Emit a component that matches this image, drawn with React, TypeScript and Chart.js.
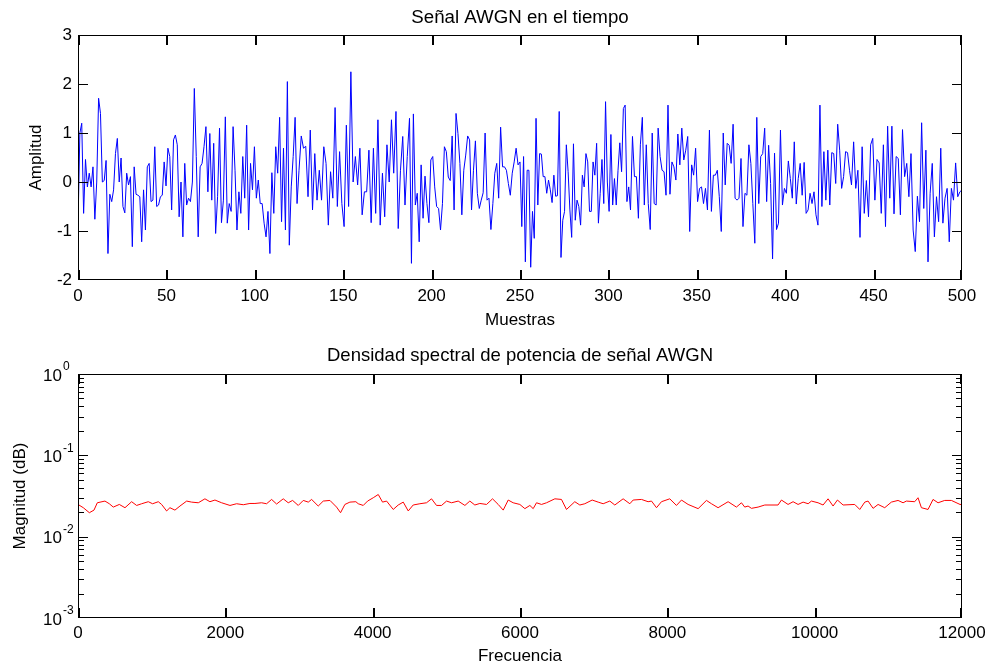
import React, { useEffect, useRef } from 'react';
import { Chart, registerables } from 'chart.js';

Chart.register(...registerables);

const FONT = '"Liberation Sans", Arial, Helvetica, sans-serif';

const TOP_TITLE = 'Señal AWGN en el tiempo';
const TOP_XLABEL = 'Muestras';
const TOP_YLABEL = 'Amplitud';
const BOT_TITLE = 'Densidad spectral de potencia de señal AWGN';
const BOT_XLABEL = 'Frecuencia';
const BOT_YLABEL = 'Magnitud (dB)';

// Tick values
const timeXTicks = [0, 50, 100, 150, 200, 250, 300, 350, 400, 450, 500];
const timeYTicks = [-2, -1, 0, 1, 2, 3];
const freqXTicks = [0, 2000, 4000, 6000, 8000, 10000, 12000];
const magDecades = [-3, -2, -1, 0];
const magMinorMultipliers = [2, 3, 4, 5, 6, 7, 8, 9];

// AWGN samples, read in 8 consecutive blocks of 62.5 samples each (0..500)
const seg0 = [-0.9, 1.0, 1.2, -0.64, 0.46, -0.1, 0.18, -0.1, 0.31, -0.76, 0.0, 1.71, 1.4, 0.0, 0.03, 0.44, -1.46, -0.25, -0.4, -0.16, 0.58, 0.89, 0.0, 0.49, -0.5, -0.63, 0.18, -0.06, 0.11, -1.32, 0.31, -0.25, -0.27, -0.3, -1.22, -0.16, -0.98, 0.31, 0.38, -0.4, -0.37, 0.72, -0.5, -0.47, -0.3, -0.27, 0.41, -0.08, 0.69, 0.52, -0.57, 0.86, 0.96, 0.76, -0.71, 0.0, -1.12, 0.38, -0.47];
const seg1 = [-0.33, -0.4, 0.0, 1.91, 0.52, -1.12, 0.31, 0.38, 0.72, 1.13, -0.2, 0.99, -0.37, 0.79, -1.05, -0.3, 1.1, -0.83, -0.37, 1.33, -0.84, -0.44, -0.6, 1.13, 0.24, -0.98, -0.2, -0.64, 0.52, -0.33, 1.16, -0.98, 0.38, -0.16, 0.72, -0.33, 0.04, -0.44, -0.44, -0.84, -1.12, -0.6, -1.46, 0.19, -0.64, 0.72, 0.18, 1.32, -0.81, 0.69, -0.98, 2.05, -1.29, -0.1, 0.52, 1.32, -0.44];
const seg2 = [0.24, 0.94, 0.69, 0.73, -0.3, 1.06, -0.57, 0.58, -0.37, 0.24, -0.37, 0.72, 0.38, -0.88, 0.21, -0.33, 1.52, -0.5, 0.62, -0.44, -0.91, 1.16, -0.5, 2.25, 0.0, 0.52, -0.06, 0.69, -0.67, -0.2, -0.2, 0.65, -0.83, 0.69, -0.64, 1.27, -0.88, 0.18, -0.71, 0.76, 0.0, 1.27, 0.18, 1.44, -0.95, 0.24, 0.93, -0.47, 0.52];
const seg3 = [1.3, -1.66, 1.39, -0.47, -0.23, -1.22, 0.35, -0.74, 0.12, -0.44, -0.83, 0.45, 0.52, -0.1, -0.5, -0.54, -0.98, -0.44, 0.72, 0.62, 0.1, 0.03, 0.94, -0.57, 1.4, 0.99, 0.38, -0.67, 0.24, 0.55, 0.94, 0.86, -0.57, 0.24, 0.84, -0.23, -0.54, -0.37, -0.22, 1.0, -0.37, -0.33, -0.97, -0.44, 0.18, 0.38, -0.33, 1.12, 0.31, 0.31, 0.24, -0.03, -0.27, 0.18, 0.41, 0.69, 0.35];
const seg4 = [0.41, -0.91, 0.52, -1.63, 0.24, 0.24, -1.74, -0.6, -1.15, 1.3, -0.47, 0.58, 0.57, 0.11, 0.11, -0.23, 0.04, -0.16, -0.42, 0.14, -0.29, -0.28, 1.44, -1.54, -0.78, -0.6, 0.76, 0.21, -0.57, -1.13, 0.78, -0.78, -0.37, -0.5, -0.88, 0.14, -0.1, 0.58, 0.41, -0.6, -0.6, 0.41, 0.14, 0.79, -0.84, -0.23, 0.46, -0.44, 1.64, 0.0, -0.6, 0.97, -0.47, 0.07, -0.47, 0.24, 0.8, 0.21, 1.5, 1.57, -0.4, -0.1];
const seg5 = [-0.57, 0.93, 0.11, 0.11, -0.74, 0.76, 1.32, -0.47, 0.76, -0.44, -0.97, 1.0, -0.44, -0.47, 1.1, 0.52, 0.24, 0.21, -0.27, 1.57, -0.25, 0.41, 0.31, 0.04, 0.98, 0.35, 1.1, 0.45, 0.65, 0.93, -1.01, 0.35, 0.14, 0.69, -0.4, -0.13, -0.1, -0.44, -0.13, -0.57, 1.06, -0.6, 0.14, 0.14, 0.24, -0.3, -1.01, 1.0, -0.06, 0.79, 0.75, 0.38, 1.18, -0.33, -0.37, -0.33];
const seg6 = [0.48, -0.91, -0.23, -0.27, 0.76, 0.38, -0.44, -1.25, 1.32, -0.44, 0.52, 0.58, 1.1, -0.4, 0.75, -0.03, -1.57, 0.59, -0.97, -0.84, 1.06, -0.47, -0.13, -0.23, 0.43, 0.07, -0.33, 0.82, -0.45, 0.07, 0.38, -0.27, 0.4, -0.64, -0.57, -0.23, -0.44, -0.2, -0.67, -0.88, 1.57, -0.5, 0.62, -0.37, 0.65, -0.47, 0.6, 0.58, -0.03, 1.18, 0.65, -0.13, 0.11, 0.62, 0.6, 0.24];
const seg7 = [-0.06, 0.82, -0.13, 0.24, -1.13, 0.72, -0.64, 0.03, -0.71, 0.76, 0.89, -0.37, 0.46, 0.39, -0.64, 0.76, -0.91, 1.14, -0.33, 1.14, -0.65, 0.52, 0.48, -0.67, 1.07, 0.11, 0.38, -0.3, 0.58, -0.98, -1.42, -0.29, -0.81, 1.21, -0.54, 0.65, -1.63, -0.23, 0.38, -1.12, -0.3, -0.81, 0.69, -0.84, -0.33, -0.13, -1.22, -0.13, -0.37, 0.39, -0.3, -0.2, -0.16];
const timeSegments = [seg0, seg1, seg2, seg3, seg4, seg5, seg6, seg7];
const SAMPLES = 500;

// Power spectral density (frequency, magnitude)
const psdFreq = [0, 72, 154, 217, 262, 366, 425, 479, 561, 638, 728, 796, 864, 954, 1013, 1090, 1135, 1203, 1248, 1316, 1384, 1475, 1542, 1633, 1723, 1791, 1859, 1950, 2063, 2153, 2244, 2334, 2402, 2492, 2560, 2628, 2696, 2786, 2854, 2913, 2990, 3058, 3126, 3171, 3261, 3329, 3420, 3510, 3564, 3623, 3691, 3772, 3804, 3872, 3931, 4008, 4076, 4134, 4189, 4279, 4347, 4415, 4483, 4550, 4641, 4731, 4799, 4867, 4935, 5003, 5071, 5161, 5252, 5319, 5387, 5455, 5546, 5627, 5704, 5772, 5840, 5907, 5998,
  6066, 6134, 6179, 6224, 6292, 6360, 6473, 6563, 6631, 6744, 6812, 6880, 6980, 7061, 7129, 7219, 7287, 7400, 7491, 7536, 7649, 7739, 7785, 7853, 7920, 8033, 8124, 8192, 8282, 8418, 8531, 8599, 8689, 8825, 8938, 9006, 9051, 9096, 9142, 9232, 9323, 9503, 9549, 9639, 9707, 9775, 9843, 9911, 9956, 10046, 10114, 10182, 10250, 10309, 10386, 10544, 10612, 10680, 10725, 10793, 10861, 10951, 11041, 11132, 11200, 11245, 11358, 11403, 11449, 11539, 11607, 11675, 11765, 11856, 11973, 12000];
const psdMag = [0.0249, 0.0227, 0.0197, 0.0212, 0.0261, 0.0274, 0.0254, 0.0231, 0.0249, 0.0227, 0.0269, 0.0242, 0.0254, 0.0269, 0.0254, 0.0269, 0.0249, 0.0207, 0.0227, 0.0212, 0.0238, 0.0274, 0.0266, 0.0261, 0.0292, 0.0269, 0.0282, 0.0261, 0.0242, 0.0254, 0.0247, 0.0256, 0.0256, 0.0261, 0.0254, 0.0287, 0.0252, 0.0292, 0.0261, 0.0279, 0.0242, 0.0279, 0.0266, 0.0287, 0.0238, 0.0274, 0.0279, 0.0231, 0.0197, 0.0249, 0.0266, 0.0269, 0.0254, 0.0242, 0.0274, 0.0301, 0.0330, 0.0266, 0.0274, 0.0216, 0.0245, 0.0266, 0.0207, 0.0245, 0.0254, 0.0261, 0.0292, 0.0242, 0.0242, 0.0274, 0.0261, 0.0274, 0.0242, 0.0274, 0.0245, 0.0256, 0.0249, 0.0292, 0.0249, 0.0212, 0.0282, 0.0261, 0.0249,
  0.0221, 0.0242, 0.0221, 0.0261, 0.0249, 0.0261, 0.0292, 0.0287, 0.0216, 0.0269, 0.0245, 0.0254, 0.0282, 0.0266, 0.0254, 0.0274, 0.0245, 0.0292, 0.0254, 0.0282, 0.0287, 0.0269, 0.0274, 0.0227, 0.0269, 0.0292, 0.0242, 0.0282, 0.0249, 0.0221, 0.0279, 0.0254, 0.0227, 0.0269, 0.0231, 0.0261, 0.0231, 0.0238, 0.0223, 0.0231, 0.0245, 0.0245, 0.0282, 0.0249, 0.0269, 0.0249, 0.0266, 0.0254, 0.0274, 0.0261, 0.0245, 0.0292, 0.0238, 0.0282, 0.0245, 0.0249, 0.0216, 0.0266, 0.0274, 0.0223, 0.0249, 0.0227, 0.0266, 0.0279, 0.0261, 0.0274, 0.0269, 0.0301, 0.0227, 0.0216, 0.0287, 0.0261, 0.0279, 0.0279, 0.0249, 0.0249];

function buildTimePoints() {
  const pts: { x: number; y: number }[] = [];
  const span = SAMPLES / timeSegments.length;
  timeSegments.forEach((seg, k) => {
    const last = k === timeSegments.length - 1;
    const step = last ? span / (seg.length - 1) : span / seg.length;
    seg.forEach((v, i) => pts.push({ x: k * span + i * step, y: v }));
  });
  return pts;
}

const MAJOR = 10;
const MINOR = 6;
const TICK_COLOR = '#000';

type AxesCfg = { xTicks: number[]; yTicks?: number[]; log?: boolean; decades?: number[]; minor?: number[] };

function makeMatlabAxes(cfg: AxesCfg) {
  return {
    id: 'matlabAxes',
    afterDraw(chart: any) {
      const { ctx, chartArea: a } = chart;
      const xs = chart.scales.x;
      const ys = chart.scales.y;
      const L = Math.round(a.left);
      const R = Math.round(a.right) - 1;
      const T = Math.round(a.top);
      const B = Math.round(a.bottom) - 1;
      ctx.save();
      ctx.fillStyle = TICK_COLOR;
      ctx.fillRect(L, T, R - L + 1, 1);
      ctx.fillRect(L, B, R - L + 1, 1);
      ctx.fillRect(L, T, 1, B - T + 1);
      ctx.fillRect(R, T, 1, B - T + 1);
      for (const v of cfg.xTicks) {
        const px = Math.round(xs.getPixelForValue(v));
        const x = Math.min(Math.max(px, L), R - 1);
        ctx.fillRect(x, B - MAJOR + 1, 2, MAJOR);
        ctx.fillRect(x, T, 2, MAJOR);
      }
      const yt: { v: number; len: number }[] = [];
      if (cfg.log && cfg.decades) {
        const decs = cfg.decades;
        for (const d of decs) {
          yt.push({ v: Math.pow(10, d), len: MAJOR });
          if (d < decs[decs.length - 1] && cfg.minor) {
            for (const m of cfg.minor) yt.push({ v: m * Math.pow(10, d), len: MINOR });
          }
        }
      } else if (cfg.yTicks) {
        for (const v of cfg.yTicks) yt.push({ v, len: MAJOR });
      }
      for (const { v, len } of yt) {
        const py = Math.round(ys.getPixelForValue(v));
        const y = Math.min(Math.max(py, T), B);
        ctx.fillRect(L, y, len, 1);
        ctx.fillRect(R - len + 1, y, len, 1);
      }
      if (cfg.log && cfg.decades) {
        ctx.fillStyle = '#000';
        ctx.textBaseline = 'middle';
        for (const d of cfg.decades) {
          const py = ys.getPixelForValue(Math.pow(10, d));
          ctx.font = `17px ${FONT}`;
          ctx.textAlign = 'right';
          ctx.fillText('10', a.left - 16, py + 2);
          ctx.font = `12px ${FONT}`;
          ctx.textAlign = 'left';
          ctx.fillText(String(d), a.left - 15, py - 7);
        }
      }
      ctx.restore();
    },
  };
}

const font17 = { family: FONT, size: 17, weight: 'normal' as const };

function topConfig(): any {
  return {
    type: 'line',
    data: {
      datasets: [{
        data: buildTimePoints(),
        borderColor: '#0000ff',
        borderWidth: 1,
        pointRadius: 0,
        tension: 0,
        fill: false,
      }],
    },
    options: {
      animation: false,
      responsive: false,
      devicePixelRatio: 1,
      layout: { padding: { left: 0, right: 32, top: 0, bottom: 0 } },
      plugins: {
        legend: { display: false },
        tooltip: { enabled: false },
        title: { display: true, text: TOP_TITLE, fullSize: false, color: '#000', font: { family: FONT, size: 18.7, weight: 'normal' }, padding: { top: 7, bottom: 5.6 } },
      },
      scales: {
        x: {
          type: 'linear', min: 0, max: SAMPLES,
          grid: { display: false, drawTicks: false },
          border: { display: false },
          ticks: { stepSize: 50, padding: 6, color: '#000', font: font17, maxRotation: 0, autoSkip: false, callback: (v: any) => String(v) },
          title: { display: true, text: TOP_XLABEL, color: '#000', font: font17, padding: { top: 0, bottom: 4 } },
          afterFit: (s: any) => { s.height = 55; },
        },
        y: {
          type: 'linear', min: -2, max: 3,
          grid: { display: false, drawTicks: false },
          border: { display: false },
          ticks: { stepSize: 1, padding: 6, color: '#000', font: font17, callback: (v: any) => String(v) },
          title: { display: true, text: TOP_YLABEL, color: '#000', font: font17, padding: { top: 26, bottom: 0 } },
          afterFit: (s: any) => { s.width = 78; },
        },
      },
    },
    plugins: [makeMatlabAxes({ xTicks: timeXTicks, yTicks: timeYTicks })],
  };
}

function bottomConfig(): any {
  return {
    type: 'line',
    data: {
      datasets: [{
        data: psdFreq.map((f, i) => ({ x: f, y: psdMag[i] })),
        borderColor: '#ff0000',
        borderWidth: 1,
        pointRadius: 0,
        tension: 0,
        fill: false,
      }],
    },
    options: {
      animation: false,
      responsive: false,
      devicePixelRatio: 1,
      layout: { padding: { left: 0, right: 32, top: 0, bottom: 0 } },
      plugins: {
        legend: { display: false },
        tooltip: { enabled: false },
        title: { display: true, text: BOT_TITLE, fullSize: false, color: '#000', font: { family: FONT, size: 18.5, weight: 'normal' }, padding: { top: 10, bottom: 6.8 } },
      },
      scales: {
        x: {
          type: 'linear', min: 0, max: 12000,
          grid: { display: false, drawTicks: false },
          border: { display: false },
          ticks: { stepSize: 2000, padding: 5, color: '#000', font: font17, maxRotation: 0, autoSkip: false, callback: (v: any) => String(v) },
          title: { display: true, text: BOT_XLABEL, color: '#000', font: font17, padding: { top: 0, bottom: 3 } },
          afterFit: (s: any) => { s.height = 52; },
        },
        y: {
          type: 'logarithmic', min: 0.001, max: 1,
          grid: { display: false, drawTicks: false },
          border: { display: false },
          ticks: { padding: 6, color: '#000', font: font17, autoSkip: false, callback: () => '' },
          title: { display: true, text: BOT_YLABEL, color: '#000', font: font17, padding: { top: 10, bottom: 0 } },
          afterFit: (s: any) => { s.width = 78; },
        },
      },
    },
    plugins: [makeMatlabAxes({ xTicks: freqXTicks, log: true, decades: magDecades, minor: magMinorMultipliers })],
  };
}

export default function App() {
  const topRef = useRef<HTMLCanvasElement>(null);
  const botRef = useRef<HTMLCanvasElement>(null);
  useEffect(() => {
    const c1 = new Chart(topRef.current as HTMLCanvasElement, topConfig());
    const c2 = new Chart(botRef.current as HTMLCanvasElement, bottomConfig());
    return () => { c1.destroy(); c2.destroy(); };
  }, []);
  return (
    <div style={{ position: 'absolute', left: 0, top: 0, width: 994, height: 670, background: '#fff' }}>
      <canvas ref={topRef} width={994} height={335} style={{ position: 'absolute', left: 0, top: 0, width: 994, height: 335 }} />
      <canvas ref={botRef} width={994} height={335} style={{ position: 'absolute', left: 0, top: 335, width: 994, height: 335 }} />
    </div>
  );
}
